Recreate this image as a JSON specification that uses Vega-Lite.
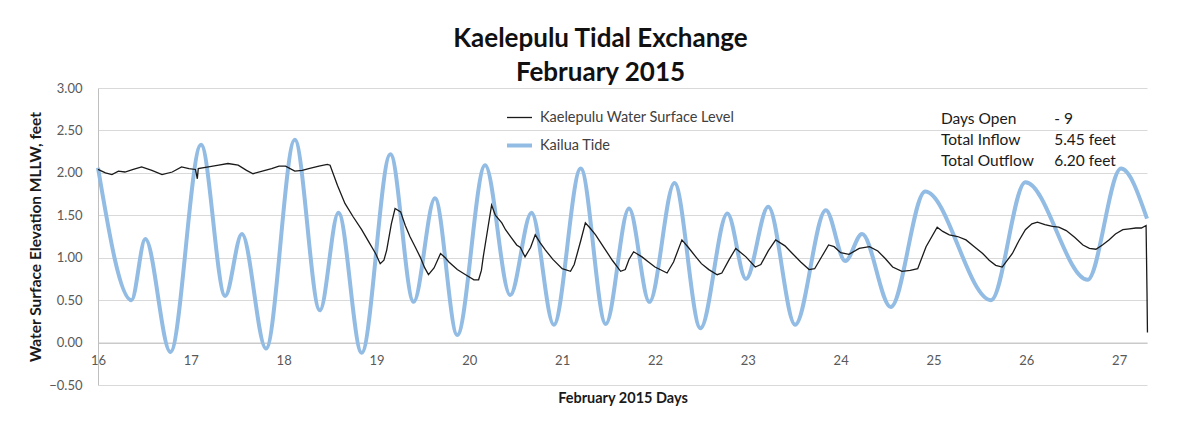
{
  "$schema": "https://vega.github.io/schema/vega-lite/v6.json",
  "autosize": "none",
  "width": 1049,
  "height": 297,
  "padding": {"left": 98, "top": 88, "right": 53, "bottom": 48},
  "background": "white",
  "title": {
    "text": ["Kaelepulu Tidal Exchange", "February 2015"],
    "font": "Lato",
    "fontSize": 26,
    "fontWeight": "bold",
    "color": "#111111",
    "anchor": "middle",
    "dx": -22,
    "lineHeight": 34,
    "offset": -4
  },
  "config": {
    "view": {"stroke": null},
    "font": "Lato",
    "axis": {"labelFont": "Lato", "titleFont": "Lato", "labelColor": "#595959", "titleColor": "#1a1a1a", "labelFontSize": 13, "titleFontSize": 14.5, "titleFontWeight": "bold"}
  },
  "datasets": {
    "notes": [
      {"label": "Days Open\nTotal Inflow\nTotal Outflow", "amount": "- 9\n5.45 feet\n6.20 feet"}
    ],
    "tide": [
      {"day": 16.00, "elev": 2.06, "series": "Kailua Tide"},
      {"day": 16.36, "elev": 0.50, "series": "Kailua Tide"},
      {"day": 16.51, "elev": 1.22, "series": "Kailua Tide"},
      {"day": 16.78, "elev": -0.11, "series": "Kailua Tide"},
      {"day": 17.11, "elev": 2.33, "series": "Kailua Tide"},
      {"day": 17.37, "elev": 0.55, "series": "Kailua Tide"},
      {"day": 17.55, "elev": 1.28, "series": "Kailua Tide"},
      {"day": 17.81, "elev": -0.07, "series": "Kailua Tide"},
      {"day": 18.12, "elev": 2.39, "series": "Kailua Tide"},
      {"day": 18.39, "elev": 0.38, "series": "Kailua Tide"},
      {"day": 18.59, "elev": 1.53, "series": "Kailua Tide"},
      {"day": 18.84, "elev": -0.12, "series": "Kailua Tide"},
      {"day": 19.15, "elev": 2.22, "series": "Kailua Tide"},
      {"day": 19.40, "elev": 0.48, "series": "Kailua Tide"},
      {"day": 19.63, "elev": 1.70, "series": "Kailua Tide"},
      {"day": 19.87, "elev": 0.09, "series": "Kailua Tide"},
      {"day": 20.17, "elev": 2.09, "series": "Kailua Tide"},
      {"day": 20.44, "elev": 0.56, "series": "Kailua Tide"},
      {"day": 20.67, "elev": 1.53, "series": "Kailua Tide"},
      {"day": 20.91, "elev": 0.21, "series": "Kailua Tide"},
      {"day": 21.20, "elev": 2.05, "series": "Kailua Tide"},
      {"day": 21.47, "elev": 0.22, "series": "Kailua Tide"},
      {"day": 21.72, "elev": 1.58, "series": "Kailua Tide"},
      {"day": 21.94, "elev": 0.48, "series": "Kailua Tide"},
      {"day": 22.21, "elev": 1.88, "series": "Kailua Tide"},
      {"day": 22.49, "elev": 0.17, "series": "Kailua Tide"},
      {"day": 22.78, "elev": 1.52, "series": "Kailua Tide"},
      {"day": 22.98, "elev": 0.75, "series": "Kailua Tide"},
      {"day": 23.22, "elev": 1.60, "series": "Kailua Tide"},
      {"day": 23.51, "elev": 0.21, "series": "Kailua Tide"},
      {"day": 23.84, "elev": 1.56, "series": "Kailua Tide"},
      {"day": 24.05, "elev": 0.96, "series": "Kailua Tide"},
      {"day": 24.23, "elev": 1.28, "series": "Kailua Tide"},
      {"day": 24.54, "elev": 0.42, "series": "Kailua Tide"},
      {"day": 24.91, "elev": 1.78, "series": "Kailua Tide"},
      {"day": 25.62, "elev": 0.50, "series": "Kailua Tide"},
      {"day": 25.99, "elev": 1.89, "series": "Kailua Tide"},
      {"day": 26.66, "elev": 0.74, "series": "Kailua Tide"},
      {"day": 27.02, "elev": 2.05, "series": "Kailua Tide"},
      {"day": 27.30, "elev": 1.46, "series": "Kailua Tide"}
    ],
    "lake": [
      {"day": 16.00, "elev": 2.04, "series": "Kaelepulu Water Surface Level"},
      {"day": 16.08, "elev": 2.00, "series": "Kaelepulu Water Surface Level"},
      {"day": 16.15, "elev": 1.98, "series": "Kaelepulu Water Surface Level"},
      {"day": 16.22, "elev": 2.02, "series": "Kaelepulu Water Surface Level"},
      {"day": 16.29, "elev": 2.01, "series": "Kaelepulu Water Surface Level"},
      {"day": 16.38, "elev": 2.04, "series": "Kaelepulu Water Surface Level"},
      {"day": 16.47, "elev": 2.07, "series": "Kaelepulu Water Surface Level"},
      {"day": 16.58, "elev": 2.03, "series": "Kaelepulu Water Surface Level"},
      {"day": 16.69, "elev": 1.98, "series": "Kaelepulu Water Surface Level"},
      {"day": 16.80, "elev": 2.01, "series": "Kaelepulu Water Surface Level"},
      {"day": 16.90, "elev": 2.07, "series": "Kaelepulu Water Surface Level"},
      {"day": 16.98, "elev": 2.05, "series": "Kaelepulu Water Surface Level"},
      {"day": 17.05, "elev": 2.04, "series": "Kaelepulu Water Surface Level"},
      {"day": 17.07, "elev": 1.93, "series": "Kaelepulu Water Surface Level"},
      {"day": 17.08, "elev": 2.05, "series": "Kaelepulu Water Surface Level"},
      {"day": 17.19, "elev": 2.07, "series": "Kaelepulu Water Surface Level"},
      {"day": 17.30, "elev": 2.09, "series": "Kaelepulu Water Surface Level"},
      {"day": 17.40, "elev": 2.11, "series": "Kaelepulu Water Surface Level"},
      {"day": 17.51, "elev": 2.09, "series": "Kaelepulu Water Surface Level"},
      {"day": 17.60, "elev": 2.03, "series": "Kaelepulu Water Surface Level"},
      {"day": 17.67, "elev": 1.99, "series": "Kaelepulu Water Surface Level"},
      {"day": 17.77, "elev": 2.02, "series": "Kaelepulu Water Surface Level"},
      {"day": 17.87, "elev": 2.05, "series": "Kaelepulu Water Surface Level"},
      {"day": 17.95, "elev": 2.08, "series": "Kaelepulu Water Surface Level"},
      {"day": 18.02, "elev": 2.08, "series": "Kaelepulu Water Surface Level"},
      {"day": 18.12, "elev": 2.02, "series": "Kaelepulu Water Surface Level"},
      {"day": 18.20, "elev": 2.03, "series": "Kaelepulu Water Surface Level"},
      {"day": 18.27, "elev": 2.05, "series": "Kaelepulu Water Surface Level"},
      {"day": 18.38, "elev": 2.08, "series": "Kaelepulu Water Surface Level"},
      {"day": 18.47, "elev": 2.10, "series": "Kaelepulu Water Surface Level"},
      {"day": 18.50, "elev": 2.09, "series": "Kaelepulu Water Surface Level"},
      {"day": 18.58, "elev": 1.85, "series": "Kaelepulu Water Surface Level"},
      {"day": 18.66, "elev": 1.64, "series": "Kaelepulu Water Surface Level"},
      {"day": 18.75, "elev": 1.48, "series": "Kaelepulu Water Surface Level"},
      {"day": 18.84, "elev": 1.33, "series": "Kaelepulu Water Surface Level"},
      {"day": 18.92, "elev": 1.18, "series": "Kaelepulu Water Surface Level"},
      {"day": 18.99, "elev": 1.05, "series": "Kaelepulu Water Surface Level"},
      {"day": 19.04, "elev": 0.93, "series": "Kaelepulu Water Surface Level"},
      {"day": 19.08, "elev": 0.97, "series": "Kaelepulu Water Surface Level"},
      {"day": 19.11, "elev": 1.09, "series": "Kaelepulu Water Surface Level"},
      {"day": 19.16, "elev": 1.40, "series": "Kaelepulu Water Surface Level"},
      {"day": 19.20, "elev": 1.58, "series": "Kaelepulu Water Surface Level"},
      {"day": 19.26, "elev": 1.54, "series": "Kaelepulu Water Surface Level"},
      {"day": 19.31, "elev": 1.38, "series": "Kaelepulu Water Surface Level"},
      {"day": 19.36, "elev": 1.25, "series": "Kaelepulu Water Surface Level"},
      {"day": 19.42, "elev": 1.12, "series": "Kaelepulu Water Surface Level"},
      {"day": 19.47, "elev": 1.01, "series": "Kaelepulu Water Surface Level"},
      {"day": 19.52, "elev": 0.88, "series": "Kaelepulu Water Surface Level"},
      {"day": 19.56, "elev": 0.80, "series": "Kaelepulu Water Surface Level"},
      {"day": 19.62, "elev": 0.88, "series": "Kaelepulu Water Surface Level"},
      {"day": 19.69, "elev": 1.05, "series": "Kaelepulu Water Surface Level"},
      {"day": 19.74, "elev": 1.00, "series": "Kaelepulu Water Surface Level"},
      {"day": 19.78, "elev": 0.95, "series": "Kaelepulu Water Surface Level"},
      {"day": 19.87, "elev": 0.86, "series": "Kaelepulu Water Surface Level"},
      {"day": 19.96, "elev": 0.80, "series": "Kaelepulu Water Surface Level"},
      {"day": 20.05, "elev": 0.74, "series": "Kaelepulu Water Surface Level"},
      {"day": 20.10, "elev": 0.74, "series": "Kaelepulu Water Surface Level"},
      {"day": 20.13, "elev": 0.85, "series": "Kaelepulu Water Surface Level"},
      {"day": 20.15, "elev": 1.01, "series": "Kaelepulu Water Surface Level"},
      {"day": 20.20, "elev": 1.35, "series": "Kaelepulu Water Surface Level"},
      {"day": 20.24, "elev": 1.62, "series": "Kaelepulu Water Surface Level"},
      {"day": 20.28, "elev": 1.50, "series": "Kaelepulu Water Surface Level"},
      {"day": 20.35, "elev": 1.41, "series": "Kaelepulu Water Surface Level"},
      {"day": 20.39, "elev": 1.33, "series": "Kaelepulu Water Surface Level"},
      {"day": 20.45, "elev": 1.24, "series": "Kaelepulu Water Surface Level"},
      {"day": 20.51, "elev": 1.15, "series": "Kaelepulu Water Surface Level"},
      {"day": 20.55, "elev": 1.12, "series": "Kaelepulu Water Surface Level"},
      {"day": 20.60, "elev": 1.01, "series": "Kaelepulu Water Surface Level"},
      {"day": 20.66, "elev": 1.12, "series": "Kaelepulu Water Surface Level"},
      {"day": 20.71, "elev": 1.27, "series": "Kaelepulu Water Surface Level"},
      {"day": 20.76, "elev": 1.18, "series": "Kaelepulu Water Surface Level"},
      {"day": 20.82, "elev": 1.09, "series": "Kaelepulu Water Surface Level"},
      {"day": 20.90, "elev": 0.98, "series": "Kaelepulu Water Surface Level"},
      {"day": 21.00, "elev": 0.87, "series": "Kaelepulu Water Surface Level"},
      {"day": 21.09, "elev": 0.84, "series": "Kaelepulu Water Surface Level"},
      {"day": 21.13, "elev": 0.92, "series": "Kaelepulu Water Surface Level"},
      {"day": 21.20, "elev": 1.20, "series": "Kaelepulu Water Surface Level"},
      {"day": 21.25, "elev": 1.41, "series": "Kaelepulu Water Surface Level"},
      {"day": 21.30, "elev": 1.35, "series": "Kaelepulu Water Surface Level"},
      {"day": 21.36, "elev": 1.27, "series": "Kaelepulu Water Surface Level"},
      {"day": 21.45, "elev": 1.12, "series": "Kaelepulu Water Surface Level"},
      {"day": 21.54, "elev": 0.97, "series": "Kaelepulu Water Surface Level"},
      {"day": 21.63, "elev": 0.84, "series": "Kaelepulu Water Surface Level"},
      {"day": 21.68, "elev": 0.86, "series": "Kaelepulu Water Surface Level"},
      {"day": 21.72, "elev": 0.98, "series": "Kaelepulu Water Surface Level"},
      {"day": 21.77, "elev": 1.07, "series": "Kaelepulu Water Surface Level"},
      {"day": 21.86, "elev": 1.01, "series": "Kaelepulu Water Surface Level"},
      {"day": 21.93, "elev": 0.95, "series": "Kaelepulu Water Surface Level"},
      {"day": 22.00, "elev": 0.89, "series": "Kaelepulu Water Surface Level"},
      {"day": 22.13, "elev": 0.82, "series": "Kaelepulu Water Surface Level"},
      {"day": 22.20, "elev": 0.95, "series": "Kaelepulu Water Surface Level"},
      {"day": 22.29, "elev": 1.21, "series": "Kaelepulu Water Surface Level"},
      {"day": 22.36, "elev": 1.12, "series": "Kaelepulu Water Surface Level"},
      {"day": 22.44, "elev": 1.01, "series": "Kaelepulu Water Surface Level"},
      {"day": 22.50, "elev": 0.93, "series": "Kaelepulu Water Surface Level"},
      {"day": 22.58, "elev": 0.86, "series": "Kaelepulu Water Surface Level"},
      {"day": 22.67, "elev": 0.80, "series": "Kaelepulu Water Surface Level"},
      {"day": 22.72, "elev": 0.82, "series": "Kaelepulu Water Surface Level"},
      {"day": 22.80, "elev": 0.98, "series": "Kaelepulu Water Surface Level"},
      {"day": 22.87, "elev": 1.11, "series": "Kaelepulu Water Surface Level"},
      {"day": 22.98, "elev": 1.01, "series": "Kaelepulu Water Surface Level"},
      {"day": 23.08, "elev": 0.89, "series": "Kaelepulu Water Surface Level"},
      {"day": 23.14, "elev": 0.92, "series": "Kaelepulu Water Surface Level"},
      {"day": 23.22, "elev": 1.08, "series": "Kaelepulu Water Surface Level"},
      {"day": 23.30, "elev": 1.21, "series": "Kaelepulu Water Surface Level"},
      {"day": 23.40, "elev": 1.14, "series": "Kaelepulu Water Surface Level"},
      {"day": 23.48, "elev": 1.05, "series": "Kaelepulu Water Surface Level"},
      {"day": 23.57, "elev": 0.95, "series": "Kaelepulu Water Surface Level"},
      {"day": 23.66, "elev": 0.86, "series": "Kaelepulu Water Surface Level"},
      {"day": 23.72, "elev": 0.87, "series": "Kaelepulu Water Surface Level"},
      {"day": 23.80, "elev": 1.02, "series": "Kaelepulu Water Surface Level"},
      {"day": 23.87, "elev": 1.15, "series": "Kaelepulu Water Surface Level"},
      {"day": 23.93, "elev": 1.13, "series": "Kaelepulu Water Surface Level"},
      {"day": 24.00, "elev": 1.06, "series": "Kaelepulu Water Surface Level"},
      {"day": 24.09, "elev": 1.04, "series": "Kaelepulu Water Surface Level"},
      {"day": 24.20, "elev": 1.11, "series": "Kaelepulu Water Surface Level"},
      {"day": 24.31, "elev": 1.13, "series": "Kaelepulu Water Surface Level"},
      {"day": 24.40, "elev": 1.08, "series": "Kaelepulu Water Surface Level"},
      {"day": 24.48, "elev": 0.99, "series": "Kaelepulu Water Surface Level"},
      {"day": 24.56, "elev": 0.89, "series": "Kaelepulu Water Surface Level"},
      {"day": 24.66, "elev": 0.84, "series": "Kaelepulu Water Surface Level"},
      {"day": 24.75, "elev": 0.85, "series": "Kaelepulu Water Surface Level"},
      {"day": 24.83, "elev": 0.87, "series": "Kaelepulu Water Surface Level"},
      {"day": 24.92, "elev": 1.13, "series": "Kaelepulu Water Surface Level"},
      {"day": 25.04, "elev": 1.36, "series": "Kaelepulu Water Surface Level"},
      {"day": 25.10, "elev": 1.31, "series": "Kaelepulu Water Surface Level"},
      {"day": 25.17, "elev": 1.27, "series": "Kaelepulu Water Surface Level"},
      {"day": 25.26, "elev": 1.25, "series": "Kaelepulu Water Surface Level"},
      {"day": 25.35, "elev": 1.21, "series": "Kaelepulu Water Surface Level"},
      {"day": 25.44, "elev": 1.13, "series": "Kaelepulu Water Surface Level"},
      {"day": 25.53, "elev": 1.05, "series": "Kaelepulu Water Surface Level"},
      {"day": 25.60, "elev": 0.97, "series": "Kaelepulu Water Surface Level"},
      {"day": 25.67, "elev": 0.91, "series": "Kaelepulu Water Surface Level"},
      {"day": 25.74, "elev": 0.89, "series": "Kaelepulu Water Surface Level"},
      {"day": 25.85, "elev": 1.05, "series": "Kaelepulu Water Surface Level"},
      {"day": 25.92, "elev": 1.20, "series": "Kaelepulu Water Surface Level"},
      {"day": 25.99, "elev": 1.33, "series": "Kaelepulu Water Surface Level"},
      {"day": 26.06, "elev": 1.40, "series": "Kaelepulu Water Surface Level"},
      {"day": 26.12, "elev": 1.42, "series": "Kaelepulu Water Surface Level"},
      {"day": 26.20, "elev": 1.39, "series": "Kaelepulu Water Surface Level"},
      {"day": 26.28, "elev": 1.37, "series": "Kaelepulu Water Surface Level"},
      {"day": 26.35, "elev": 1.36, "series": "Kaelepulu Water Surface Level"},
      {"day": 26.43, "elev": 1.32, "series": "Kaelepulu Water Surface Level"},
      {"day": 26.52, "elev": 1.24, "series": "Kaelepulu Water Surface Level"},
      {"day": 26.61, "elev": 1.15, "series": "Kaelepulu Water Surface Level"},
      {"day": 26.68, "elev": 1.11, "series": "Kaelepulu Water Surface Level"},
      {"day": 26.75, "elev": 1.10, "series": "Kaelepulu Water Surface Level"},
      {"day": 26.82, "elev": 1.15, "series": "Kaelepulu Water Surface Level"},
      {"day": 26.89, "elev": 1.21, "series": "Kaelepulu Water Surface Level"},
      {"day": 26.96, "elev": 1.28, "series": "Kaelepulu Water Surface Level"},
      {"day": 27.04, "elev": 1.33, "series": "Kaelepulu Water Surface Level"},
      {"day": 27.11, "elev": 1.34, "series": "Kaelepulu Water Surface Level"},
      {"day": 27.18, "elev": 1.35, "series": "Kaelepulu Water Surface Level"},
      {"day": 27.24, "elev": 1.35, "series": "Kaelepulu Water Surface Level"},
      {"day": 27.29, "elev": 1.38, "series": "Kaelepulu Water Surface Level"},
      {"day": 27.30, "elev": 0.60, "series": "Kaelepulu Water Surface Level"},
      {"day": 27.305, "elev": 0.12, "series": "Kaelepulu Water Surface Level"}
    ]
  },
  "layer": [
    {
      "data": {"name": "tide"},
      "mark": {"type": "line", "interpolate": "monotone"},
      "encoding": {
        "x": {"field": "day", "type": "quantitative", "scale": {"domain": [16, 27.3], "nice": false, "zero": false},
          "axis": {"values": [16,17,18,19,20,21,22,23,24,25,26,27], "format": "d", "grid": false, "ticks": false, "domain": true, "domainColor": "#bfbfbf", "offset": -42.4, "labelPadding": 12, "labelFlush": false, "title": "February 2015 Days", "titlePadding": 24}},
        "y": {"field": "elev", "type": "quantitative", "scale": {"domain": [-0.5, 3], "nice": false, "zero": false},
          "axis": {"values": [-0.5,0,0.5,1,1.5,2,2.5,3], "format": ".2f", "grid": true, "gridColor": "#d9d9d9", "ticks": false, "domain": true, "domainColor": "#bfbfbf", "labelPadding": 16, "title": "Water Surface Elevation MLLW, feet", "titleFontSize": 15.5, "titlePadding": 5}},
        "color": {"field": "series", "type": "ordinal", "scale": {"domain": ["Kaelepulu Water Surface Level", "Kailua Tide"], "range": ["#1a1a1a", "#92bce3"]},
          "legend": {"title": null, "orient": "none", "legendX": 407, "legendY": 16, "symbolType": "stroke", "symbolSize": 625, "labelFont": "Lato", "labelFontSize": 14.5, "labelColor": "#404040", "labelLimit": 400, "rowPadding": 7, "labelOffset": 6}},
        "strokeWidth": {"field": "series", "type": "ordinal", "scale": {"domain": ["Kaelepulu Water Surface Level", "Kailua Tide"], "range": [1.3, 4]},
          "legend": {"title": null, "orient": "none", "legendX": 407, "legendY": 16, "symbolType": "stroke", "symbolSize": 625, "labelFont": "Lato", "labelFontSize": 14.5, "labelColor": "#404040", "labelLimit": 400, "rowPadding": 7, "labelOffset": 6}}
      }
    },
    {
      "data": {"name": "lake"},
      "mark": {"type": "line", "interpolate": "linear"},
      "encoding": {
        "x": {"field": "day", "type": "quantitative"},
        "y": {"field": "elev", "type": "quantitative"},
        "color": {"field": "series", "type": "ordinal"},
        "strokeWidth": {"field": "series", "type": "ordinal"}
      }
    },
    {
      "data": {"name": "notes"},
      "mark": {"type": "text", "lineBreak": "\n", "align": "left", "baseline": "middle", "font": "Lato", "fontSize": 15.5, "color": "#1a1a1a", "lineHeight": 21},
      "encoding": {
        "x": {"datum": 25.08},
        "y": {"datum": 2.64},
        "text": {"field": "label"}
      }
    },
    {
      "data": {"name": "notes"},
      "mark": {"type": "text", "lineBreak": "\n", "align": "left", "baseline": "middle", "font": "Lato", "fontSize": 15.5, "color": "#1a1a1a", "lineHeight": 21},
      "encoding": {
        "x": {"datum": 26.30},
        "y": {"datum": 2.64},
        "text": {"field": "amount"}
      }
    }
  ]
}
